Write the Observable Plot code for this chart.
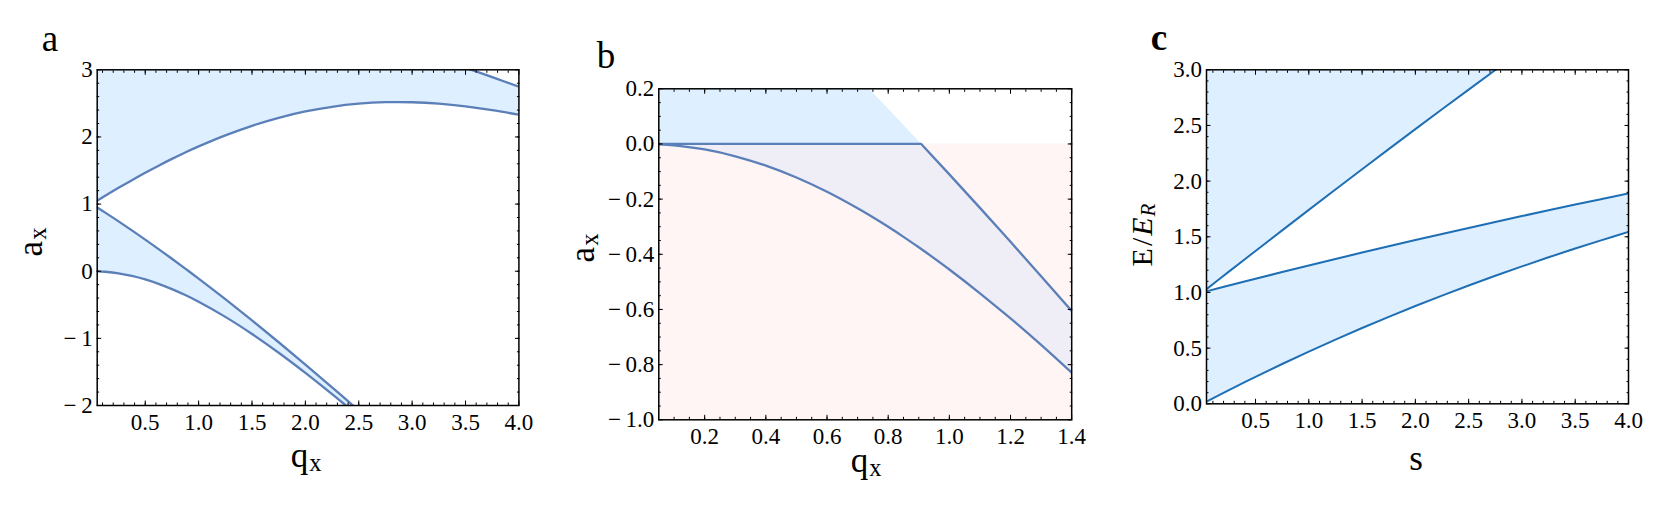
<!DOCTYPE html>
<html><head><meta charset="utf-8">
<script src="https://cdn.jsdelivr.net/npm/d3@7"></script>
<script src="https://cdn.jsdelivr.net/npm/@observablehq/plot@0.6"></script>
<style>
body{margin:0;background:#fff;}
#wrap{position:relative;width:1661px;height:527px;overflow:hidden;background:#fff;}
#wrap svg{position:absolute;top:0;}
#wrap svg text{font-family:"Liberation Serif","DejaVu Serif",serif;}
</style></head><body><div id="wrap"></div>
<script>
// ---------- Panel a : a_x vs q_x ----------
const qLow  = [0.05, 0.125, 0.25, 0.375, 0.5, 0.625, 0.75, 0.875, 1.0, 1.25, 1.5, 1.75, 2.0, 2.25, 2.375, 2.5, 2.75];
const a0Low = [-0.0013, -0.0078, -0.0310, -0.0693, -0.1215, -0.1876, -0.2658, -0.3554, -0.4551, -0.6800, -0.9344, -1.2139, -1.5140, -1.8305, -1.9935, -2.1590, -2.4950];
const b1Low = [0.9497, 0.8731, 0.7424, 0.6082, 0.4707, 0.3299, 0.1860, 0.0393, -0.1102, -0.4170, -0.7331, -1.0580, -1.3907, -1.7306, -1.9029, -2.0768, -2.4287];
const qHigh  = [0.05, 0.125, 0.25, 0.375, 0.5, 0.625, 0.75, 0.875, 1.0, 1.25, 1.5, 1.75, 2.0, 2.25, 2.5, 2.75, 3.0, 3.25, 3.5, 3.75, 4.0];
const a1High = [1.0497, 1.1230, 1.2419, 1.3566, 1.4668, 1.5723, 1.6730, 1.7686, 1.8591, 2.0238, 2.1661, 2.2848, 2.3792, 2.4492, 2.4949, 2.5171, 2.5170, 2.4961, 2.4564, 2.4005, 2.3314];
const b2High = [3.9998, 3.9987, 3.9948, 3.9883, 3.9792, 3.9675, 3.9532, 3.9364, 3.9170, 3.8708, 3.8138, 3.7476, 3.6722, 3.5876, 3.4925, 3.3907, 3.2769, 3.1570, 3.0287, 2.8920, 2.7469];
const aXTicks = [0.5, 1.0, 1.5, 2.0, 2.5, 3.0, 3.5, 4.0];
const aYTicks = [-2, -1, 0, 1, 2, 3];

// ---------- Panel b : a_x vs q_x (zoom) ----------
const qB    = [0.05, 0.1, 0.2, 0.3, 0.4, 0.5, 0.6, 0.7, 0.75, 0.8, 0.85, 0.9, 0.908, 1.0, 1.1, 1.2, 1.3, 1.4];
const a0B   = [-0.0012, -0.0050, -0.0199, -0.0446, -0.0786, -0.1215, -0.1734, -0.2332, -0.2658, -0.3004, -0.3367, -0.3746, -0.3808, -0.4551, -0.5413, -0.6326, -0.7287, -0.8294];
const b1B   = [0.9497, 0.8988, 0.7951, 0.6887, 0.5810, 0.4707, 0.3583, 0.2439, 0.1860, 0.1277, 0.0688, 0.0096, 0.0, -0.1102, -0.2317, -0.3548, -0.4795, -0.6056];
const edgeB = [0, 0, 0, 0, 0, 0, 0, 0, 0, 0, 0, 0, 0, -0.1102, -0.2317, -0.3548, -0.4795, -0.6056];
const pinkQ = [0.05, 1.4];
const pinkLow = [-1, -1];
const pinkHigh = [0, 0];
const bXTicks = [0.2, 0.4, 0.6, 0.8, 1.0, 1.2, 1.4];
const bYTicks = [-1.0, -0.8, -0.6, -0.4, -0.2, 0.0, 0.2];

// ---------- Panel c : E/E_R vs s ----------
const sC  = [0.04, 0.25, 0.5, 0.75, 1.0, 1.25, 1.5, 1.75, 2.0, 2.25, 2.5, 2.75, 3.0, 3.25, 3.5, 3.75, 4.0];
const E0  = [0.0200, 0.1231, 0.2422, 0.3575, 0.4690, 0.5767, 0.6807, 0.7812, 0.8785, 0.9719, 1.0624, 1.1497, 1.2342, 1.3158, 1.3946, 1.4705, 1.5449];
const Eb1 = [1.0100, 1.0620, 1.1231, 1.1832, 1.2424, 1.3008, 1.3582, 1.4149, 1.4707, 1.5257, 1.5799, 1.6333, 1.6860, 1.7380, 1.7893, 1.8398, 1.8898];
const sCUp = [0.04, 0.25, 0.5, 0.75, 1.0, 1.25, 1.5, 1.75, 2.0, 2.25, 2.5, 2.75, 3.0];
const Ea1  = [1.0300, 1.1870, 1.3730, 1.5580, 1.7419, 1.9248, 2.1066, 2.2872, 2.4668, 2.6451, 2.8223, 2.9982, 3.1730];
const cXTicks = [0.5, 1.0, 1.5, 2.0, 2.5, 3.0, 3.5, 4.0];
const cYTicks = [0.0, 0.5, 1.0, 1.5, 2.0, 2.5, 3.0];

// ---------- styling ----------
const FONT = "Liberation Serif, DejaVu Serif, serif";
const LINE_AB = "#5b7fb8";
const LINE_C = "#1f6fb5";
const BLUE = "#deefff";
const PINK = "#ffecec";
const TICK_FONT = 23;

const minus = s => s.replace("-", "\u2212\u2009");
const fmtInt = d => minus(String(d));
const fmt1 = d => minus(d.toFixed(1));

function rows(x, ...cols) {
  return x.map((v, i) => { const o = {x: v}; cols.forEach((c, k) => o["y" + k] = c[i]); return o; });
}

function panel({left, width, mL, mR, mT, mB, xDomain, yDomain, xMajor, xMinor, yMajor, yMinor, xFmt, yFmt, marks}) {
  const tickOnly = {label: null, tickFormat: () => ""};
  const svg = Plot.plot({
    width, height: 527,
    marginLeft: mL, marginRight: mR, marginTop: mT, marginBottom: mB,
    x: {domain: xDomain, axis: null},
    y: {domain: yDomain, axis: null},
    style: {fontFamily: FONT, fontSize: TICK_FONT + "px", color: "black", background: "transparent", overflow: "visible"},
    marks: [
      ...marks,
      // tick labels
      Plot.text(xMajor, {x: d => d, frameAnchor: "bottom", lineAnchor: "top", dy: 8, text: xFmt,
        fontSize: TICK_FONT, fontFamily: FONT, fill: "black"}),
      Plot.text(yMajor, {y: d => d, frameAnchor: "left", textAnchor: "end", dx: -4.5, text: yFmt,
        fontSize: TICK_FONT, fontFamily: FONT, fill: "black"}),
      // inward ticks on all four sides
      ...["bottom", "top"].flatMap(a => [
        Plot.axisX({ticks: xMajor, anchor: a, tickSize: -4.5, ...tickOnly}),
        Plot.axisX({ticks: xMinor, anchor: a, tickSize: -2.5, ...tickOnly})
      ]),
      ...["left", "right"].flatMap(a => [
        Plot.axisY({ticks: yMajor, anchor: a, tickSize: -4.5, ...tickOnly}),
        Plot.axisY({ticks: yMinor, anchor: a, tickSize: -2.5, ...tickOnly})
      ]),
      Plot.frame({stroke: "black", strokeWidth: 1.5})
    ]
  });
  svg.setAttribute("font-family", FONT);
  svg.style.left = left + "px";
  document.getElementById("wrap").appendChild(svg);
}

const within = (arr, [a, b]) => arr.filter(v => v > a + 1e-9 && v < b - 1e-9);

// Panel a
const lowA = rows(qLow, a0Low, b1Low);
const highA = rows(qHigh, a1High, b2High);
const aXDom = [0.05, 4], aYDom = [-2, 3];
panel({
  left: 0, width: 560, mL: 96.7, mR: 41.6, mT: 69.3, mB: 122,
  xDomain: aXDom, yDomain: aYDom,
  xMajor: aXTicks, xMinor: within(d3.range(0, 4.001, 0.1), aXDom),
  yMajor: aYTicks, yMinor: within(d3.range(-2, 3.001, 0.2), aYDom),
  xFmt: fmt1, yFmt: fmtInt,
  marks: [
    Plot.areaY(lowA, {x: "x", y1: "y0", y2: "y1", fill: BLUE, curve: "catmull-rom", clip: true}),
    Plot.areaY(highA, {x: "x", y1: "y0", y2: "y1", fill: BLUE, curve: "catmull-rom", clip: true}),
    Plot.line(lowA, {x: "x", y: "y0", stroke: LINE_AB, strokeWidth: 2.3, curve: "catmull-rom", clip: true}),
    Plot.line(lowA, {x: "x", y: "y1", stroke: LINE_AB, strokeWidth: 2.3, curve: "catmull-rom", clip: true}),
    Plot.line(highA, {x: "x", y: "y0", stroke: LINE_AB, strokeWidth: 2.3, curve: "catmull-rom", clip: true}),
    Plot.line(highA, {x: "x", y: "y1", stroke: LINE_AB, strokeWidth: 2.3, curve: "catmull-rom", clip: true})
  ]
});

// Panel b
const dataB = rows(qB, a0B, b1B, edgeB);
const pinkB = rows(pinkQ, pinkLow, pinkHigh);
const bXDom = [0.05, 1.4], bYDom = [-1, 0.2];
panel({
  left: 560, width: 540, mL: 98.3, mR: 28.8, mT: 88.3, mB: 107.7,
  xDomain: bXDom, yDomain: bYDom,
  xMajor: bXTicks, xMinor: within(d3.range(0, 1.401, 0.05), bXDom),
  yMajor: bYTicks, yMinor: within(d3.range(-1, 0.201, 0.05), bYDom),
  xFmt: fmt1, yFmt: fmt1,
  marks: [
    Plot.areaY(dataB, {x: "x", y1: "y0", y2: "y1", fill: BLUE, clip: true}),
    Plot.areaY(pinkB, {x: "x", y1: "y0", y2: "y1", fill: PINK, fillOpacity: 0.5, clip: true}),
    Plot.line(dataB, {x: "x", y: "y0", stroke: LINE_AB, strokeWidth: 2.3, curve: "catmull-rom", clip: true}),
    Plot.line(dataB, {x: "x", y: "y2", stroke: LINE_AB, strokeWidth: 2.3, clip: true})
  ]
});

// Panel c
const lowC = rows(sC, E0, Eb1);
const upC = rows(sCUp, Ea1);
const cXDom = [0.04, 4], cYDom = [0, 3];
panel({
  left: 1100, width: 561, mL: 106, mR: 33, mT: 69.3, mB: 123.7,
  xDomain: cXDom, yDomain: cYDom,
  xMajor: cXTicks, xMinor: within(d3.range(0, 4.001, 0.1), cXDom),
  yMajor: cYTicks, yMinor: within(d3.range(0, 3.001, 0.1), cYDom),
  xFmt: fmt1, yFmt: fmt1,
  marks: [
    Plot.areaY(lowC, {x: "x", y1: "y0", y2: "y1", fill: BLUE, curve: "catmull-rom", clip: true}),
    Plot.areaY(upC, {x: "x", y1: "y0", y2: cYDom[1] + 1, fill: BLUE, curve: "catmull-rom", clip: true}),
    Plot.line(lowC, {x: "x", y: "y0", stroke: LINE_C, strokeWidth: 2, curve: "catmull-rom", clip: true}),
    Plot.line(lowC, {x: "x", y: "y1", stroke: LINE_C, strokeWidth: 2, curve: "catmull-rom", clip: true}),
    Plot.line(upC, {x: "x", y: "y0", stroke: LINE_C, strokeWidth: 2, curve: "catmull-rom", clip: true})
  ]
});

// ---------- text overlay (panel letters and axis labels) ----------
const ov = d3.select("#wrap").append("svg")
  .attr("width", 1661).attr("height", 527).style("left", "0px")
  .style("font-family", FONT);

function label(x, y, parts, {size = 35, rotate = false, weight = "normal"} = {}) {
  const t = ov.append("text")
    .attr("text-anchor", "middle")
    .attr("font-size", size)
    .attr("font-weight", weight)
    .attr("fill", "black")
    .attr("transform", `translate(${x},${y})` + (rotate ? " rotate(-90)" : ""));
  parts.forEach(p => {
    const s = t.append("tspan").text(p.t);
    if (p.italic) s.attr("font-style", "italic");
    if (p.dx) s.attr("dx", p.dx);
    if (p.sub) s.attr("font-size", size * 0.7).attr("dy", size * 0.1);
  });
}

label(50, 50.5, [{t: "a"}], {size: 37});
label(606, 68, [{t: "b"}], {size: 37});
label(1159, 50, [{t: "c"}], {size: 37, weight: "bold"});

label(42, 242, [{t: "a"}, {t: "x", sub: true, dx: 1}], {rotate: true});
label(306, 467, [{t: "q"}, {t: "x", sub: true, dx: 1}]);
label(594, 248, [{t: "a"}, {t: "x", sub: true, dx: 1}], {rotate: true});
label(866, 472, [{t: "q"}, {t: "x", sub: true, dx: 1}]);
label(1152, 235, [{t: "E"}, {t: "/", dx: 2}, {t: "E", italic: true, dx: 2}, {t: "R", italic: true, sub: true, dx: 1}], {rotate: true, size: 30});
label(1416, 470, [{t: "s"}], {size: 35});
</script></body></html>
